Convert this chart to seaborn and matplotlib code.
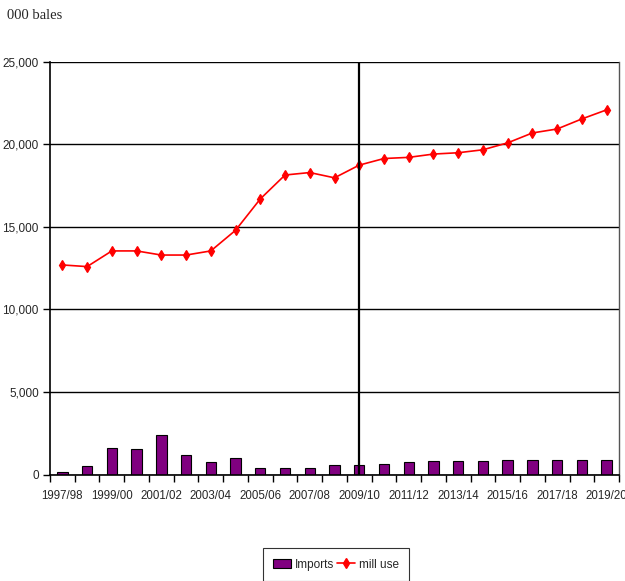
import matplotlib
matplotlib.use("Agg")
import matplotlib.pyplot as plt
import matplotlib.ticker as mticker
import seaborn as sns
from matplotlib.patches import Patch
from matplotlib.lines import Line2D

# данные (тыс. кип)
years = ["1997/98", "1998/99", "1999/00", "2000/01", "2001/02", "2002/03", "2003/04",
         "2004/05", "2005/06", "2006/07", "2007/08", "2008/09", "2009/10", "2010/11",
         "2011/12", "2012/13", "2013/14", "2014/15", "2015/16", "2016/17", "2017/18",
         "2018/19", "2019/20"]
imports = [150, 500, 1620, 1530, 2380, 1170, 730, 970, 380, 380, 400, 580, 580,
           660, 740, 820, 820, 820, 900, 900, 900, 900, 900]
mill_use = [12700, 12600, 13550, 13550, 13300, 13300, 13550, 14800, 16700, 18150,
            18300, 17980, 18750, 19150, 19220, 19420, 19500, 19680, 20100, 20700,
            20940, 21550, 22100]
split_year = "2009/10"

sns.set_style("white")
plt.rcParams["font.family"] = ["Liberation Sans Narrow", "Liberation Sans", "DejaVu Sans"]

fig = plt.figure(figsize=(6.25, 5.81), dpi=100)
ax = fig.add_axes([0.08, 0.1833, 0.9104, 0.71])

sns.barplot(x=years, y=imports, color="#800080", edgecolor="black", linewidth=0.8,
            width=0.42, saturation=1, ax=ax)
sns.pointplot(x=years, y=mill_use, color="red", marker="d", markersize=5.5,
              linewidth=1.2, ax=ax)

ax.axvline(years.index(split_year), color="black", linewidth=1.6, zorder=5)

ax.set_ylim(0, 25000)
ax.set_xlim(-0.5, len(years) - 0.5)
ax.yaxis.set_major_locator(mticker.MultipleLocator(5000))
ax.yaxis.set_major_formatter(mticker.StrMethodFormatter("{x:,.0f}"))
ax.grid(axis="y", color="black", linewidth=1)
ax.set_axisbelow(True)

ax.set_xticks(range(0, len(years), 2))
ax.set_xticklabels(years[::2])
ax.set_xticks([i - 0.5 for i in range(len(years) + 1)], minor=True)
ax.tick_params(axis="x", which="major", length=0, pad=11, labelsize=8.3)
ax.tick_params(axis="x", which="minor", length=5, width=1, color="black", direction="out")
ax.tick_params(axis="y", length=5, width=1, color="black", direction="out", labelsize=8.5,
               pad=3)
ax.yaxis.set_ticks_position("left")
ax.xaxis.set_ticks_position("bottom")

for side in ["left", "bottom"]:
    ax.spines[side].set_color("black")
    ax.spines[side].set_linewidth(1.2)
ax.spines["top"].set_visible(False)
ax.spines["right"].set_color("#555555")
ax.spines["right"].set_linewidth(1)
ax.set_xlabel("")
ax.set_ylabel("")

fig.text(0.011, 0.985, "000 bales", fontsize=10.5, family="Liberation Serif", va="top")

handles = [Patch(facecolor="#800080", edgecolor="black", linewidth=0.8),
           Line2D([], [], color="red", marker="d", markersize=5.5, linewidth=1.2)]
leg = fig.legend(handles, ["Imports", "mill use"], loc="upper center",
                 bbox_to_anchor=(0.5376, 0.0568), ncol=2, frameon=True, fancybox=False,
                 edgecolor="black", fontsize=8.5, handlelength=1.5, handletextpad=0.3,
                 columnspacing=0.3, borderpad=0.9, borderaxespad=0)
leg.get_frame().set_linewidth(0.8)

fig.savefig("out.png", dpi=100)
